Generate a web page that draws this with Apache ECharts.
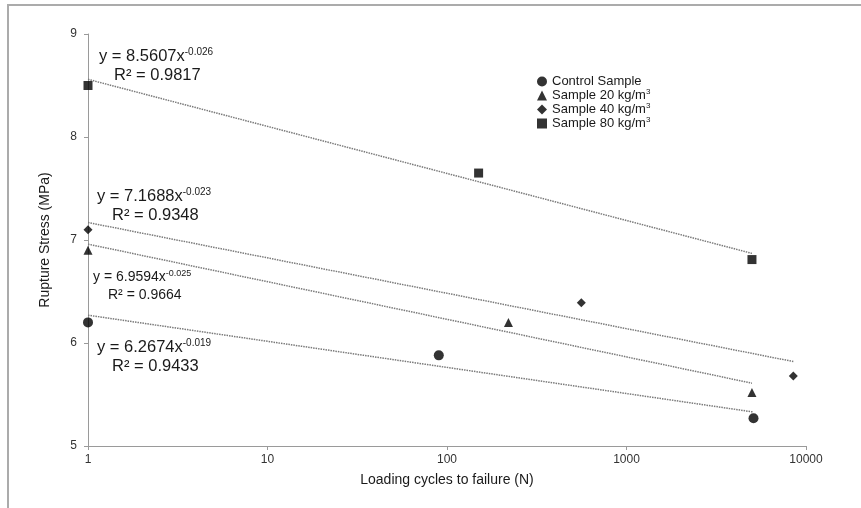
<!DOCTYPE html>
<html>
<head>
<meta charset="utf-8">
<script src="https://cdn.jsdelivr.net/npm/echarts@6/dist/echarts.min.js"></script>
<style>
  html, body { margin: 0; padding: 0; background: #fff; }
  #chart { width: 861px; height: 508px; }
</style>
</head>
<body>
<div id="chart"></div>
<script>
// x axis tick labels (log scale)
const xTickLabels = ['1', '10', '100', '1000', '10000'];

// measured points [cycles, stress MPa]
const controlData = [[1, 6.2], [90, 5.88], [5100, 5.27]];
const s20Data = [[1, 6.9], [220, 6.2], [5000, 5.52]];
const s40Data = [[1, 7.1], [560, 6.39], [8500, 5.68]];
const s80Data = [[1, 8.5], [150, 7.65], [5000, 6.81]];

// trend line ends
const controlTrend = [[1, 6.27], [5100, 5.33]];
const s20Trend = [[1, 6.96], [5000, 5.61]];
const s40Trend = [[1, 7.17], [8500, 5.82]];
const s80Trend = [[1, 8.56], [5000, 6.87]];

// equation labels: control, 20, 40, 80
const eqCoef = ['6.2674', '6.9594', '7.1688', '8.5607'];
const eqExp = ['-0.019', '-0.025', '-0.023', '-0.026'];
const eqR2 = ['0.9433', '0.9664', '0.9348', '0.9817'];

const seriesNames = ['Control Sample', 'Sample 20 kg/m3', 'Sample 40 kg/m3', 'Sample 80 kg/m3'];

const FONT = "'Liberation Sans', Arial, sans-serif";

let chart = echarts.init(document.getElementById('chart'));

function eqText(i, x, y, big, small) {
  return [
    {
      type: 'text', x: x, y: y,
      style: {
        text: '{m|y = ' + eqCoef[i] + 'x}{s|' + eqExp[i] + '}',
        verticalAlign: 'middle',
        fill: '#1a1a1a',
        fontFamily: FONT,
        rich: {
          m: { fontSize: big, lineHeight: big + 2, fontFamily: FONT, fill: '#1a1a1a' },
          s: { fontSize: small, lineHeight: small, verticalAlign: 'top', fontFamily: FONT, fill: '#1a1a1a' }
        }
      }
    },
    {
      type: 'text', x: x + 15, y: y + (big > 15 ? 19 : 18),
      style: {
        text: 'R² = ' + eqR2[i],
        verticalAlign: 'middle',
        fill: '#1a1a1a',
        font: big + 'px ' + FONT
      }
    }
  ];
}

function trend(data) {
  return {
    type: 'line',
    data: data,
    showSymbol: false,
    silent: true,
    z: 1,
    lineStyle: { color: '#7a7a7a', width: 1.5, type: [1.5, 1] }
  };
}

function pts(name, data, symbol, size) {
  return {
    name: name,
    type: 'scatter',
    data: data,
    symbol: symbol,
    symbolSize: size,
    z: 3,
    itemStyle: { color: '#000' }
  };
}

let option = {
  animation: false,
  backgroundColor: '#fff',
  grid: { left: 88, right: 55, top: 34, bottom: 62 },
  legend: {
    orient: 'vertical',
    left: 537,
    top: 75,
    padding: 0,
    itemGap: 0,
    itemWidth: 10,
    itemHeight: 10,
    selectedMode: false,
    data: [
      { name: seriesNames[0], icon: 'circle' },
      { name: seriesNames[1], icon: 'triangle' },
      { name: seriesNames[2], icon: 'diamond' },
      { name: seriesNames[3], icon: 'rect' }
    ],
    formatter: function (name) {
      if (name.slice(-1) === '3') {
        return '{m|' + name.slice(0, -1) + '}{s|3}';
      }
      return '{m|' + name + '}';
    },
    textStyle: {
      fontFamily: FONT,
      fontSize: 13,
      color: '#1a1a1a',
      rich: {
        m: { fontSize: 13, lineHeight: 15, fontFamily: FONT, color: '#1a1a1a' },
        s: { fontSize: 8, lineHeight: 8, verticalAlign: 'top', fontFamily: FONT, color: '#1a1a1a' }
      }
    }
  },
  xAxis: {
    type: 'log',
    logBase: 10,
    min: 1,
    max: 10000,
    name: 'Loading cycles to failure (N)',
    nameLocation: 'middle',
    nameGap: 27,
    nameTextStyle: { fontFamily: FONT, fontSize: 14, color: '#1a1a1a' },
    axisLine: { lineStyle: { color: '#9a9a9a', width: 1 } },
    axisTick: { show: true, length: 4, lineStyle: { color: '#9a9a9a' } },
    minorTick: { show: false },
    splitLine: { show: false },
    axisLabel: {
      margin: 8,
      fontFamily: FONT,
      fontSize: 12,
      color: '#333',
      formatter: function (v, i) { return xTickLabels[i]; }
    }
  },
  yAxis: {
    type: 'value',
    min: 5,
    max: 9,
    interval: 1,
    name: 'Rupture Stress (MPa)',
    nameLocation: 'middle',
    nameGap: 36,
    nameTextStyle: { fontFamily: FONT, fontSize: 14, color: '#1a1a1a' },
    axisLine: { show: true, lineStyle: { color: '#9a9a9a', width: 1 } },
    axisTick: { show: true, length: 4, lineStyle: { color: '#9a9a9a' } },
    splitLine: { show: false },
    axisLabel: { margin: 11, fontFamily: FONT, fontSize: 12, color: '#333' }
  },
  graphic: [
    {
      type: 'rect',
      shape: { x: 8, y: 5, width: 900, height: 600 },
      style: { fill: 'none', stroke: '#ababab', lineWidth: 2 },
      silent: true
    }
  ]
    .concat(eqText(3, 99, 56, 16.5, 10))
    .concat(eqText(2, 97, 196, 16.5, 10))
    .concat(eqText(1, 93, 277, 14, 9))
    .concat(eqText(0, 97, 347, 16.5, 10)),
  series: [
    trend(controlTrend),
    trend(s20Trend),
    trend(s40Trend),
    trend(s80Trend),
    pts(seriesNames[0], controlData, 'circle', 10),
    pts(seriesNames[1], s20Data, 'triangle', 9),
    pts(seriesNames[2], s40Data, 'diamond', 9),
    pts(seriesNames[3], s80Data, 'rect', 9)
  ]
};

chart.setOption(option);
</script>
</body>
</html>
